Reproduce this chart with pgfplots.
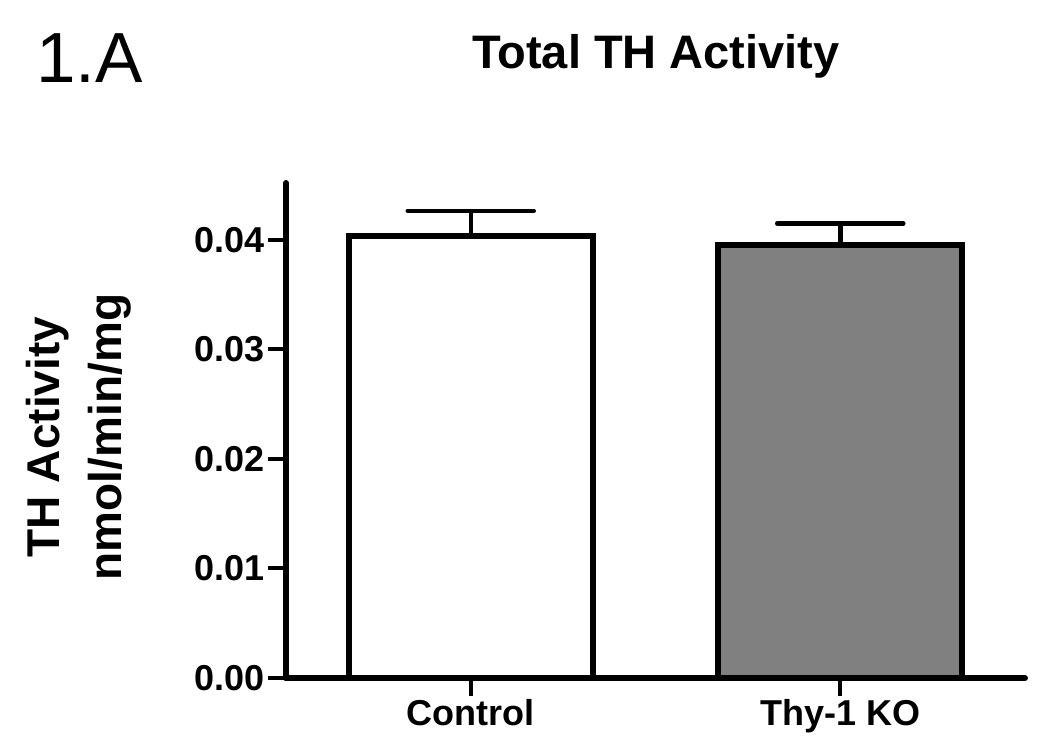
\documentclass[border=0pt]{standalone}
\usepackage{pgfplots}
\pgfplotsset{compat=1.18}
\usepackage{fontspec}
\setmainfont{Liberation Sans}
\definecolor{kogray}{HTML}{808080}
\begin{document}
\begin{tikzpicture}[x=1pt,y=1pt]
\useasboundingbox (0,0) rectangle (1050,740);
\node[anchor=base west, inner sep=0, font=\fontsize{71}{84}\selectfont] at (36,657) {1.A};
\node[anchor=base, inner sep=0, font=\fontsize{47}{56}\selectfont\bfseries] at (656,671) {Total TH Activity};
\node[rotate=90, align=center, inner sep=0, font=\fontsize{46}{62}\selectfont\bfseries] at (79,303) {TH Activity\\nmol/min/mg};
\begin{axis}[
  at={(286pt,62pt)}, anchor=south west,
  width=739pt, height=495pt, scale only axis,
  xmin=-0.5, xmax=1.5, ymin=0, ymax=0.0452,
  axis lines*=left,
  axis line style={line width=6pt, line cap=round, -},
  xtick={0,1}, xticklabels={Control, Thy-1 KO},
  ytick={0,0.01,0.02,0.03,0.04},
  yticklabels={0.00,0.01,0.02,0.03,0.04},
  scaled y ticks=false,
  tick align=outside, major tick length=18pt,
  tick style={line width=4pt, black},
  ticklabel style={font=\fontsize{36}{43}\selectfont\bfseries},
  yticklabel style={inner sep=3pt},
  xticklabel style={inner sep=3pt},
  ybar, bar width=0.66, bar shift=0pt,
  clip=false,
]
\addplot[fill=white, draw=black, line width=6pt,
  error bars/.cd, y dir=plus, y explicit, error mark=|,
  error bar style={line width=4.5pt, black},
  error mark options={line width=4.5pt, black, mark size=63pt, line cap=round}]
  coordinates {(0,0.0404) +- (0,0.00225)};
\addplot[fill=kogray, draw=black, line width=6pt,
  error bars/.cd, y dir=plus, y explicit, error mark=|,
  error bar style={line width=4.5pt, black},
  error mark options={line width=4.5pt, black, mark size=63pt, line cap=round}]
  coordinates {(1,0.0395) +- (0,0.0020)};
\end{axis}
\end{tikzpicture}
\end{document}
